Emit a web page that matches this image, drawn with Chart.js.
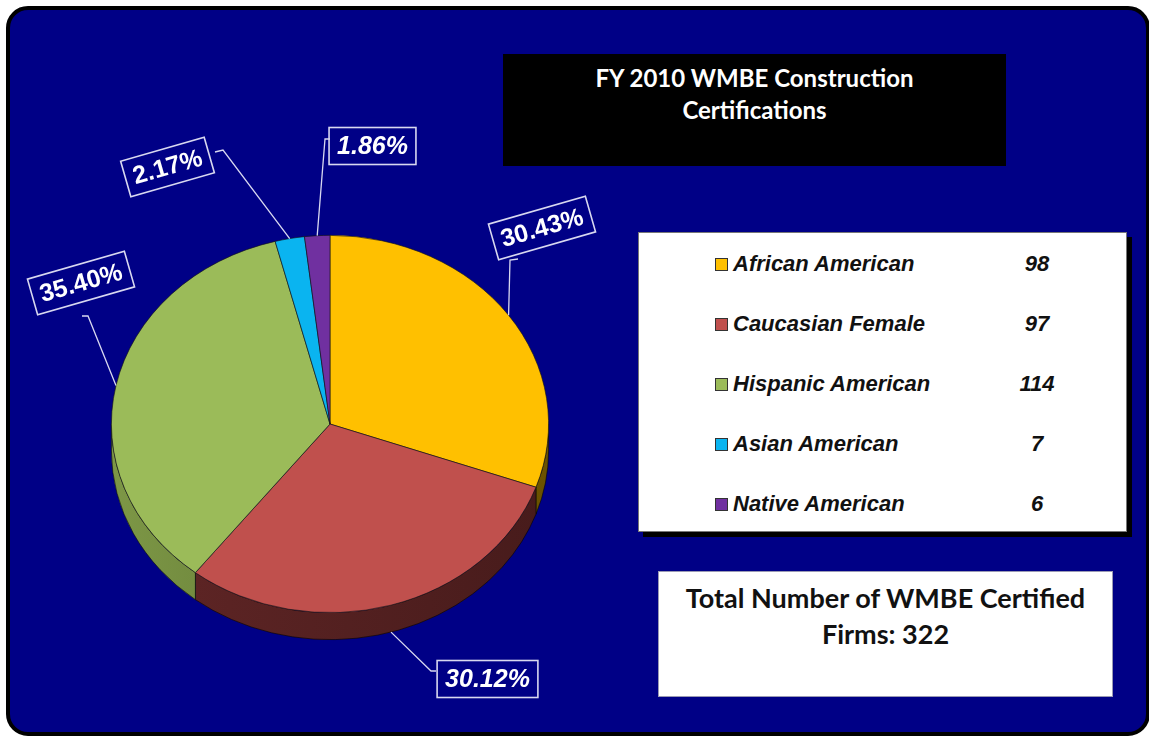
<!DOCTYPE html>
<html><head><meta charset="utf-8">
<script src="https://cdn.jsdelivr.net/npm/chart.js@4"></script>
<style>
html,body{margin:0;padding:0;background:#fff;width:1149px;height:738px;overflow:hidden;}
#panel{position:absolute;left:6px;top:6px;width:1136px;height:722px;background:#000086;border:4px solid #000;border-radius:22px;}
#titleBox{position:absolute;left:503px;top:54px;width:503px;height:112px;background:#000;color:#fff;font-family:Lato,"Open Sans",sans-serif;font-weight:700;font-size:24px;text-align:center;}
#titleBox div{position:absolute;left:0;width:100%;line-height:32px;}
#legendBox{position:absolute;left:638px;top:232px;width:487px;height:298px;background:#fff;border:1px solid #777;box-shadow:5px 5px 0 #000;}
.lrow{position:absolute;left:0;width:100%;height:30px;font-family:"Liberation Sans",Arial,sans-serif;font-weight:700;font-style:italic;font-size:22px;color:#111;}
.lsw{position:absolute;left:76px;top:9px;width:11px;height:11px;border:1px solid #333;}
.ltxt{position:absolute;left:94px;top:0;line-height:30px;white-space:nowrap;}
.lval{position:absolute;left:348px;width:100px;top:0;line-height:30px;text-align:center;}
#totalBox{position:absolute;left:658px;top:571px;width:453px;height:124px;background:#fff;border:1.5px solid #9a9ab4;font-family:Lato,"Open Sans",sans-serif;font-weight:700;font-size:27px;color:#111;text-align:center;}
#totalBox div{position:absolute;left:0;width:100%;line-height:36px;}
#c{position:absolute;left:0;top:0;z-index:5;pointer-events:none;}
</style></head>
<body>
<div id="panel"></div>
<div id="titleBox"><div style="top:8px" id="t1"></div><div style="top:40px" id="t2"></div></div>
<div id="legendBox"></div>
<div id="totalBox"><div style="top:8px" id="tot1"></div><div style="top:44px" id="tot2"></div></div>
<canvas id="c" width="1149" height="738"></canvas>
<script>
// ---- data ----
const titleLines = ['FY 2010 WMBE Construction', 'Certifications'];
const categories = ['African American', 'Caucasian Female', 'Hispanic American', 'Asian American', 'Native American'];
const counts = [98, 97, 114, 7, 6];
const totalLabel = 'Total Number of WMBE Certified';
const totalLabel2 = 'Firms: ';
const totalFirms = 322;

// ---- styles ----
const sliceColors = ['#FFC000', '#C0504D', '#9BBB59', '#0AB4F0', '#7030A0'];
const sideColors = [['#8a6c00', '#6a5200'], ['#612626', '#471b1b'], ['#7d9746', '#4c6126'], ['#087aa8', '#055a80'], ['#4d2070', '#3a1856']];
const TILT = 189 / 219;
const DEPTH = 27;
// label box placement (centre, rotation, leader tick)
const labelLayout = [
  {cx: 542, cy: 228, rot: -16, italic: false, tick: [[518, 259], [510, 260]]},
  {cx: 487.5, cy: 679, rot: 0, italic: true, tick: [[436, 671], [431, 671]]},
  {cx: 81, cy: 283, rot: -16, italic: false, tick: [[82, 316], [88, 316]]},
  {cx: 167.5, cy: 167, rot: -16, italic: false, tick: [[215, 152], [223, 150]]},
  {cx: 372.5, cy: 146, rot: 0, italic: true, tick: [[330, 139], [325, 139]]}
];

document.getElementById('t1').textContent = titleLines[0];
document.getElementById('t2').textContent = titleLines[1];
document.getElementById('tot1').textContent = totalLabel;
document.getElementById('tot2').textContent = totalLabel2 + totalFirms;

// HTML legend
const lb = document.getElementById('legendBox');
categories.forEach((c, i) => {
  const row = document.createElement('div');
  row.className = 'lrow';
  row.style.top = (16 + 60 * i) + 'px';
  row.innerHTML = '<div class="lsw" style="background:' + sliceColors[i] + '"></div><div class="ltxt">' + c + '</div><div class="lval">' + counts[i] + '</div>';
  lb.appendChild(row);
});

const sum = counts.reduce((a, b) => a + b, 0);

const pie3d = {
  id: 'pie3d',
  beforeDatasetsDraw(chart) {
    const meta = chart.getDatasetMeta(0);
    const ctx = chart.ctx;
    const a0 = meta.data[0];
    const cx = a0.x, cy = a0.y, r = a0.outerRadius, ry = r * TILT;
    meta.data.forEach((arc, i) => {
      const a1 = Math.max(arc.startAngle, 0), a2 = Math.min(arc.endAngle, Math.PI);
      if (a1 >= a2) return;
      const g = ctx.createLinearGradient(cx - r, 0, cx + r, 0);
      g.addColorStop(0, sideColors[i][0]);
      g.addColorStop(1, sideColors[i][1]);
      ctx.save();
      ctx.beginPath();
      ctx.ellipse(cx, cy, r, ry, 0, a1, a2, false);
      ctx.ellipse(cx, cy + DEPTH, r, ry, 0, a2, a1, true);
      ctx.closePath();
      ctx.fillStyle = g;
      ctx.fill();
      ctx.strokeStyle = 'rgba(0,0,0,0.7)';
      ctx.lineWidth = 0.8;
      ctx.stroke();
      ctx.restore();
    });
    ctx.save();
    ctx.translate(cx, cy);
    ctx.scale(1, TILT);
    ctx.translate(-cx, -cy);
  },
  afterDatasetsDraw(chart) {
    const ctx = chart.ctx;
    ctx.restore();
    const meta = chart.getDatasetMeta(0);
    meta.data.forEach((arc, i) => {
      const L = labelLayout[i];
      const m = (arc.startAngle + arc.endAngle) / 2;
      const px = arc.x + arc.outerRadius * Math.cos(m);
      let py = arc.y + arc.outerRadius * TILT * Math.sin(m);
      if (Math.sin(m) > 0) py += DEPTH;
      // leader
      ctx.save();
      ctx.strokeStyle = '#d8d8f0';
      ctx.lineWidth = 1.3;
      ctx.beginPath();
      ctx.moveTo(L.tick[0][0], L.tick[0][1]);
      ctx.lineTo(L.tick[1][0], L.tick[1][1]);
      ctx.lineTo(px, py);
      ctx.stroke();
      // box
      const txt = (counts[i] / sum * 100).toFixed(2) + '%';
      ctx.font = (L.italic ? 'italic ' : '') + 'bold 25px "Liberation Sans", Arial, sans-serif';
      const w = ctx.measureText(txt).width + 16;
      const h = 37;
      ctx.translate(L.cx, L.cy);
      ctx.rotate(L.rot * Math.PI / 180);
      ctx.strokeStyle = '#d8d8f0';
      ctx.lineWidth = 1.6;
      ctx.strokeRect(-w / 2, -h / 2, w, h);
      ctx.fillStyle = '#ffffff';
      ctx.textAlign = 'center';
      ctx.textBaseline = 'middle';
      ctx.fillText(txt, 0, 1);
      ctx.restore();
    });
  }
};

new Chart(document.getElementById('c'), {
  type: 'pie',
  data: {
    labels: categories,
    datasets: [{
      data: counts,
      backgroundColor: sliceColors,
      borderColor: 'rgba(20,20,20,0.85)',
      borderWidth: 0.8
    }]
  },
  options: {
    responsive: false,
    animation: false,
    events: [],
    layout: {padding: {left: 111, right: 600, top: 205, bottom: 95}},
    plugins: {legend: {display: false}, tooltip: {enabled: false}, title: {display: false}}
  },
  plugins: [pie3d]
});
</script>
</body></html>
